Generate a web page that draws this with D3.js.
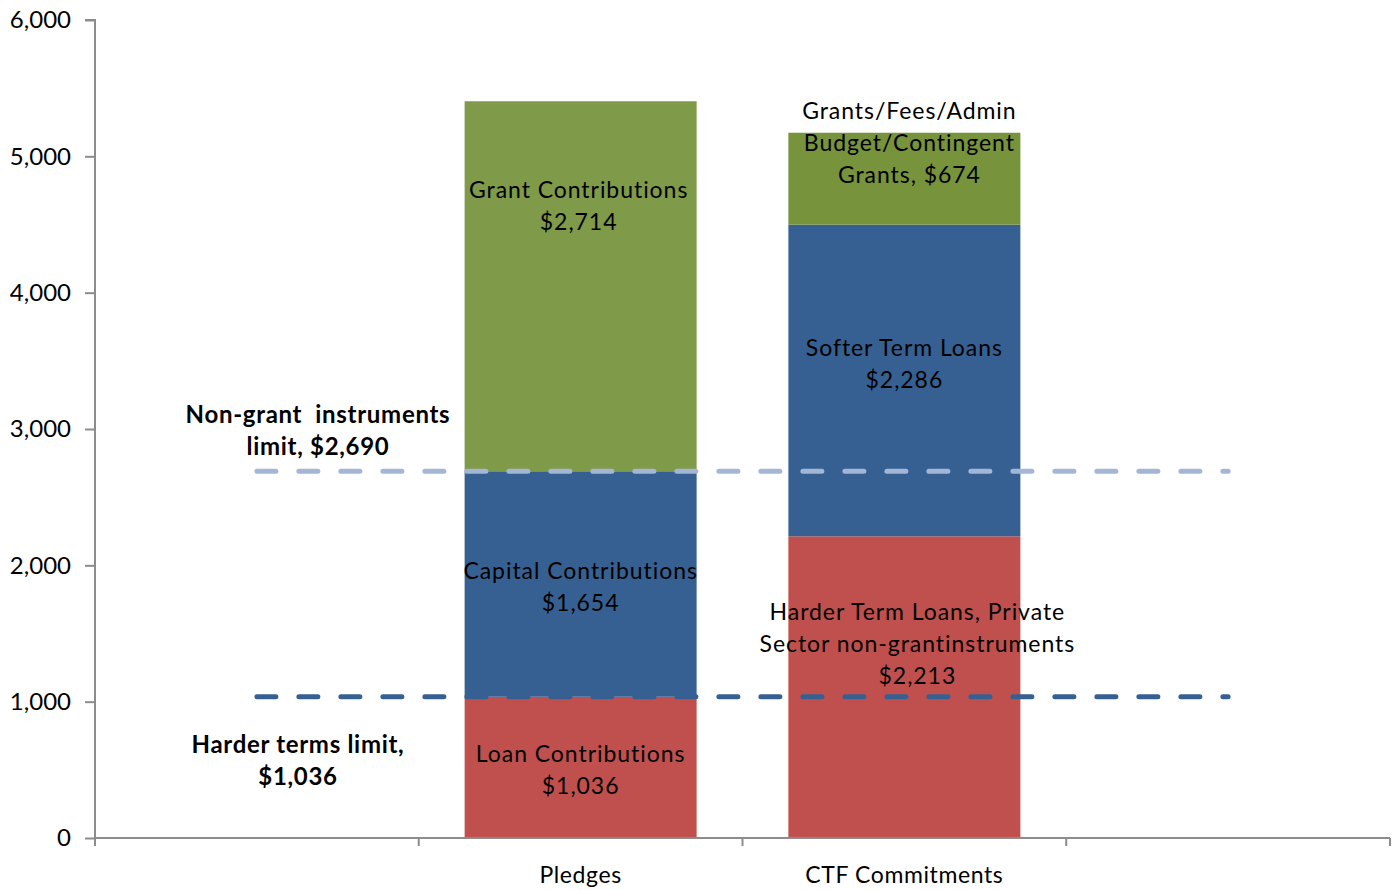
<!DOCTYPE html>
<html>
<head>
<meta charset="utf-8">
<script src="https://cdn.jsdelivr.net/npm/d3@7/dist/d3.min.js"></script>
<style>
	body { margin: 0; background: #fff; }
	text { font-family: Lato, "Open Sans", sans-serif; fill: #000; }
	.seg-label { font-size: 23px; letter-spacing: 0.95px; }
	.note { font-size: 24px; font-weight: bold; letter-spacing: 0.7px; }
	.axis text { font-size: 24px; }
	.axis path, .axis line { stroke: #8c8c8c; stroke-width: 2; }
</style>
</head>
<body>
<svg id="vis" width="1398" height="890"></svg>
<script>
	// Categories along the x axis (first and last slots are empty)
	const slots = ["s0", "Pledges", "CTF Commitments", "s3"];
	const slotLabels = ["", "Pledges", "CTF Commitments", ""];

	// Stacked segments, bottom to top
	const pledgeParts = ["Loan Contributions", "Capital Contributions", "Grant Contributions"];
	const pledgeValues = [1036, 1654, 2714];
	const ctfParts = ["Harder Term Loans", "Softer Term Loans", "Grants/Fees/Admin"];
	const ctfValues = [2213, 2286, 674];

	// Limit lines
	const limitNames = ["Non-grant instruments limit", "Harder terms limit"];
	const limitValues = [2690, 1036];

	const yTicks = [0, 1000, 2000, 3000, 4000, 5000, 6000];

	const svg = d3.select("svg#vis");
	const margin = {left: 95, right: 8, top: 20, bottom: 52};
	const width = 1398 - margin.left - margin.right;
	const height = 890 - margin.top - margin.bottom;

	const g = svg.append("g").attr("transform", translate(margin.left, margin.top));

	const xSlot = d3.scaleBand().domain(slots).range([0, width]);
	const y = d3.scaleLinear().domain([0, 6000]).range([height, 0]);

	const colors = {
		Pledges: ["#c0504d", "#376092", "#7f9a48"],
		"CTF Commitments": ["#c0504d", "#376092", "#77933c"]
	};
	const limitColors = ["#a3b6d6", "#376092"];

	// build stacks
	function stack(cat, vals) {
		let base = 0;
		return vals.map(function(v, i) {
			const d = {cat: cat, i: i, y0: base, y1: base + v};
			base += v;
			return d;
		});
	}
	const segs = stack("Pledges", pledgeValues).concat(stack("CTF Commitments", ctfValues));

	// bars
	const barW = 232;
	g.selectAll("rect.seg")
		.data(segs)
		.enter()
		.append("rect")
		.attr("class", "seg")
		.attr("x", d => xSlot(d.cat) + xSlot.bandwidth() / 2 - barW / 2)
		.attr("width", barW)
		.attr("y", d => y(d.y1))
		.attr("height", d => y(d.y0) - y(d.y1))
		.attr("fill", d => colors[d.cat][d.i]);

	// axes
	const yAxis = g.append("g").attr("class", "axis")
		.call(d3.axisLeft(y).tickValues(yTicks).tickSize(10).tickPadding(14).tickFormat(d3.format(",")));
	yAxis.select(".domain").attr("d", "M0," + height + "V0H-10");

	const xAxis = g.append("g").attr("class", "axis")
		.attr("transform", translate(0, height))
		.call(d3.axisBottom(xSlot).tickSize(0).tickPadding(29).tickFormat((d, i) => slotLabels[i]));
	xAxis.select(".domain").attr("d", "M0,0H" + width);
	xAxis.selectAll(".tick text").attr("dy", "0.71em").style("font-size", "23px").style("letter-spacing", "0.6px");
	// boundary ticks
	xAxis.selectAll("line.bound")
		.data(d3.range(slots.length + 1))
		.enter()
		.append("line")
		.attr("class", "bound")
		.attr("x1", i => i * xSlot.bandwidth())
		.attr("x2", i => i * xSlot.bandwidth())
		.attr("y1", 0)
		.attr("y2", 8);

	// dashed limit lines from first slot centre to last slot centre
	g.selectAll("line.limit")
		.data(limitValues)
		.enter()
		.append("line")
		.attr("class", "limit")
		.attr("x1", xSlot(slots[0]) + xSlot.bandwidth() / 2)
		.attr("x2", xSlot(slots[3]) + xSlot.bandwidth() / 2)
		.attr("y1", d => y(d))
		.attr("y2", d => y(d))
		.attr("stroke", (d, i) => limitColors[i])
		.attr("stroke-width", 5)
		.attr("stroke-linecap", "round")
		.attr("stroke-dasharray", "19,23");

	// labels
	const cx = c => xSlot(c) + xSlot.bandwidth() / 2;
	const fmt = d3.format(",");
	const segLabels = [
		{x: cx("Pledges") - 2, y: 198, lines: ["Grant Contributions", "$" + fmt(pledgeValues[2])]},
		{x: cx("Pledges"), y: 579, lines: ["Capital Contributions", "$" + fmt(pledgeValues[1])]},
		{x: cx("Pledges"), y: 762, lines: ["Loan Contributions", "$" + fmt(pledgeValues[0])]},
		{x: cx("CTF Commitments") + 5, y: 119, lines: ["Grants/Fees/Admin", "Budget/Contingent", "Grants, $" + fmt(ctfValues[2])]},
		{x: cx("CTF Commitments"), y: 356, lines: ["Softer Term Loans", "$" + fmt(ctfValues[1])]},
		{x: cx("CTF Commitments") + 13, y: 620, lines: ["Harder Term Loans, Private", "Sector non-grantinstruments", "$" + fmt(ctfValues[0])]}
	];
	const notes = [
		{x: 318, y: 423, lines: ["Non-grant  instruments", "limit, $" + fmt(limitValues[0])]},
		{x: 298, y: 753, lines: ["Harder terms limit,", "$" + fmt(limitValues[1])]}
	];

	function drawLabels(list, cls) {
		list.forEach(function(l) {
			const t = svg.append("text")
				.attr("class", cls)
				.attr("text-anchor", "middle")
				.attr("x", l.x)
				.attr("y", l.y);
			l.lines.forEach(function(s, i) {
				t.append("tspan").attr("x", l.x).attr("y", l.y + i * 32).style("white-space", "pre").text(s);
			});
		});
	}
	drawLabels(segLabels.map(l => ({x: l.x + margin.left, y: l.y, lines: l.lines})), "seg-label");
	drawLabels(notes, "note");

	function translate(x, y) {
		return 'translate(' + x + ',' + y + ')';
	}
</script>
</body>
</html>
